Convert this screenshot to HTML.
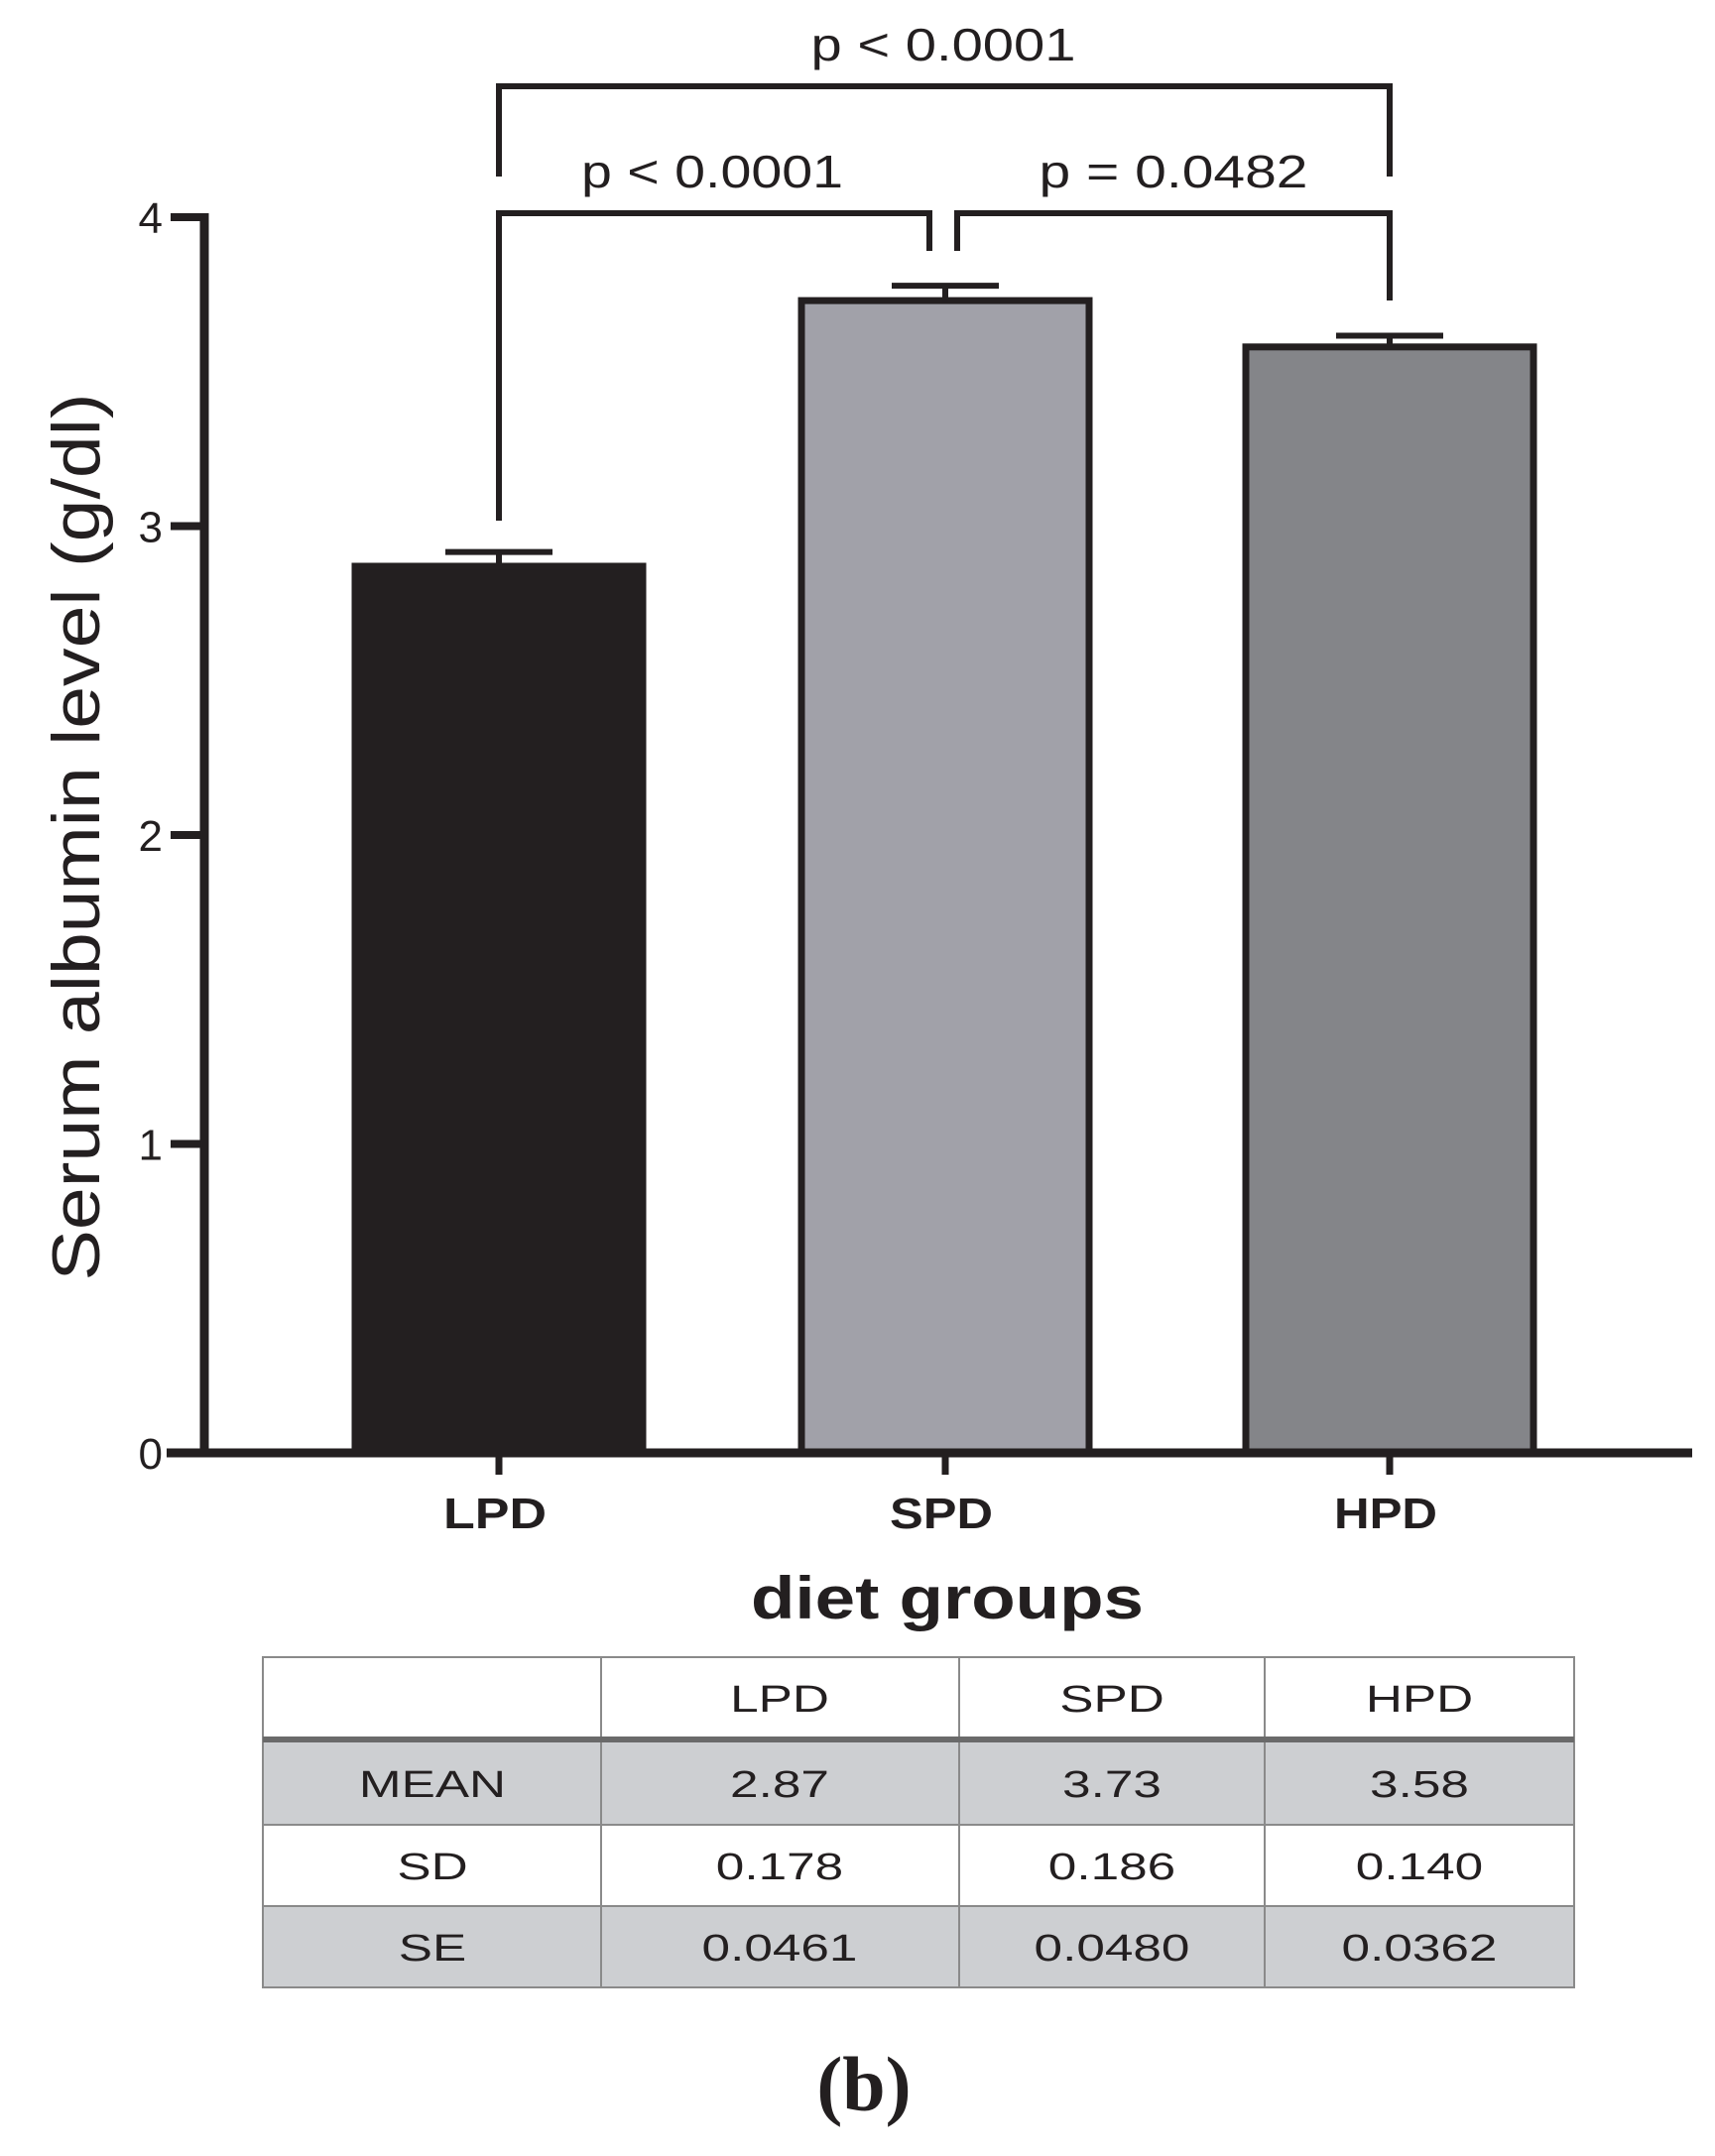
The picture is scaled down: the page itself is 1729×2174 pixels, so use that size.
<!DOCTYPE html>
<html><head><meta charset="utf-8"><style>
html,body{margin:0;padding:0;background:#fff;}
svg{display:block;}
text{font-family:"Liberation Sans",sans-serif;fill:#231f20;}
</style></head><body>
<svg id="chart" width="1729" height="2174" viewBox="0 0 1729 2174">
<g id="plot"></g>
</svg>
<script>
const categories = ["LPD","SPD","HPD"];
const means = [2.87,3.73,3.58];
const sds = [0.178,0.186,0.140];
const ses = [0.0461,0.0480,0.0362];
const yTicks = [0,1,2,3,4];
const barColors = ["#231f20","#a1a1a9","#848589"];

const NS="http://www.w3.org/2000/svg";
const g=document.getElementById('plot');
function mk(tag,attrs,parent){const e=document.createElementNS(NS,tag);for(const k in attrs)e.setAttribute(k,attrs[k]);(parent||g).appendChild(e);return e;}
const y0=1465, unit=311.5;
function yS(v){return y0-v*unit;}
const centers=[503,953,1401];
function xS(i){return centers[i];}
const barW=290;

categories.forEach((c,i)=>{
  const top=yS(means[i]);
  let r=mk('rect',{x:xS(i)-barW/2,y:top,width:barW,height:y0-top,fill:barColors[i],stroke:'#231f20','stroke-width':7});
  
  
  const et=yS(means[i]+ses[i]);
  let e=mk('path',{d:`M${xS(i)} ${top} V${et} M${xS(i)-54} ${et} H${xS(i)+54}`,stroke:'#231f20','stroke-width':6,fill:'none'});
  
  
  let t=mk('text',{x:xS(i)-4,y:1541,'text-anchor':'middle','font-size':44,'font-weight':'bold',textLength:104,lengthAdjust:'spacingAndGlyphs'});
  t.textContent=c;
  
  
  mk('line',{x1:xS(i),x2:xS(i),y1:y0,y2:y0+22,stroke:'#231f20','stroke-width':7});
});
let ya=mk('line',{x1:206,x2:206,y1:yS(4)-4,y2:y0+4,stroke:'#231f20','stroke-width':9});


let xa=mk('line',{x1:168,x2:1706,y1:y0,y2:y0,stroke:'#231f20','stroke-width':9});


yTicks.forEach(v=>{
  mk('line',{x1:172,x2:206,y1:yS(v),y2:yS(v),stroke:'#231f20','stroke-width':8});
  let t=mk('text',{x:164,y:yS(v)+16,'text-anchor':'end','font-size':44});
  t.textContent=String(v);
  
  
});
</script>
<svg width="1729" height="2174" style="position:absolute;left:0;top:0">
<g stroke="#231f20" stroke-width="6" fill="none">
<path d="M503 178 V87 H1401 V178"/>
<path d="M503 525 V215 H937 V253"/>
<path d="M965 253 V215 H1401 V303"/>
</g>
<text x="951" y="61" text-anchor="middle" font-size="46" textLength="267" lengthAdjust="spacingAndGlyphs">p &lt; 0.0001</text>
<text x="718" y="189" text-anchor="middle" font-size="46" textLength="264" lengthAdjust="spacingAndGlyphs">p &lt; 0.0001</text>
<text x="1183" y="189" text-anchor="middle" font-size="46" textLength="271" lengthAdjust="spacingAndGlyphs">p = 0.0482</text>
<text transform="translate(100,844) rotate(-90)" text-anchor="middle" font-size="68" textLength="895" lengthAdjust="spacingAndGlyphs">Serum albumin level  (g/dl)</text>
<text x="955" y="1632" text-anchor="middle" font-size="60" font-weight="bold" textLength="396" lengthAdjust="spacingAndGlyphs">diet groups</text>
<g>
<rect x="265" y="1754" width="1322" height="86" fill="#cdcfd2"/>
<rect x="265" y="1922" width="1322" height="82" fill="#cdcfd2"/>
<g stroke="#8a8a8a" stroke-width="2" fill="none">
<rect x="265" y="1671" width="1322" height="333"/>
<line x1="265" x2="1587" y1="1840" y2="1840"/>
<line x1="265" x2="1587" y1="1922" y2="1922"/>
<line x1="606" x2="606" y1="1671" y2="2004"/>
<line x1="967" x2="967" y1="1671" y2="2004"/>
<line x1="1275" x2="1275" y1="1671" y2="2004"/>
</g>
<line x1="265" x2="1587" y1="1754" y2="1754" stroke="#6a6a6a" stroke-width="6"/>
<g id="tbltext" font-size="38" text-anchor="middle">
<text x="786" y="1726">LPD</text><text x="1121" y="1726">SPD</text><text x="1431" y="1726">HPD</text>
<text x="436" y="1812">MEAN</text><text x="786" y="1812">2.87</text><text x="1121" y="1812">3.73</text><text x="1431" y="1812">3.58</text>
<text x="436" y="1895">SD</text><text x="786" y="1895">0.178</text><text x="1121" y="1895">0.186</text><text x="1431" y="1895">0.140</text>
<text x="436" y="1977">SE</text><text x="786" y="1977">0.0461</text><text x="1121" y="1977">0.0480</text><text x="1431" y="1977">0.0362</text>
</g>
</g>
<text x="871" y="2128" text-anchor="middle" font-size="78" font-weight="bold" style="font-family:'Liberation Serif',serif">(b)</text>
</svg>
<script>
document.querySelectorAll('#tbltext text').forEach(t=>{
  const L=t.getComputedTextLength();
  t.setAttribute('textLength',(L*1.35).toFixed(1));
  t.setAttribute('lengthAdjust','spacingAndGlyphs');
});
</script>
</body></html>
